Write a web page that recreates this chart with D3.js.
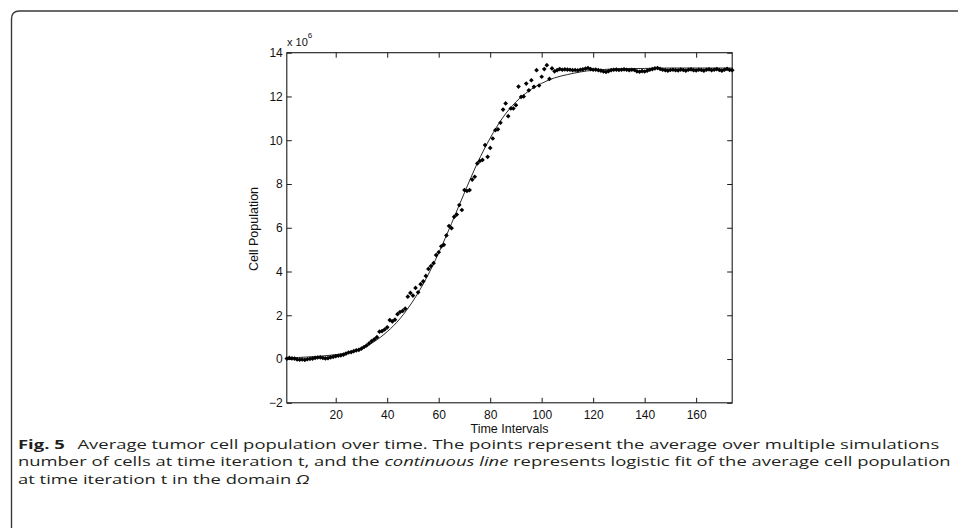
<!DOCTYPE html>
<html><head><meta charset="utf-8">
<script src="https://cdn.jsdelivr.net/npm/d3@7/dist/d3.min.js"></script>
<style>body{margin:0;background:#fff}svg{display:block}</style>
</head><body><svg id="c" width="958" height="528"></svg>
<script>
// ---- data (cell population in millions, x 10^6) ----
const xDomain = [1, 174];
const yDomain = [-2, 14];
const xTicks = [20, 40, 60, 80, 100, 120, 140, 160];
const yTicks = [-2, 0, 2, 4, 6, 8, 10, 12, 14];
// average cell population at time iteration t = 1..174
const pointValues = [
  0.02, 0.05, 0.03, 0.02, -0.02, -0.03, -0.02, -0.04, -0.01, 0.01,
  0.02, 0.05, 0.07, 0.08, 0.05, 0.03, 0.04, 0.08, 0.10, 0.13,
  0.15, 0.17, 0.20, 0.25, 0.30, 0.32, 0.36, 0.40, 0.42, 0.48,
  0.55, 0.62, 0.72, 0.82, 0.90, 1.00, 1.25, 1.28, 1.35, 1.45,
  1.78, 1.72, 1.80, 2.05, 2.15, 2.20, 2.30, 2.85, 3.02, 2.90,
  3.25, 3.05, 3.42, 3.55, 3.80, 4.12, 4.25, 4.38, 4.75, 4.88,
  5.15, 5.22, 5.65, 6.08, 5.98, 6.50, 6.60, 7.04, 6.81, 7.72,
  7.68, 7.72, 8.20, 8.33, 8.94, 9.05, 9.10, 9.78, 9.24, 9.65,
  10.08, 10.46, 10.50, 10.80, 11.40, 11.68, 11.10, 11.45, 11.45, 11.60,
  12.45, 11.98, 12.00, 12.59, 12.28, 12.74, 12.44, 13.20, 12.50, 12.90,
  13.25, 13.43, 12.80, 13.28, 13.15, 13.20, 13.25, 13.22, 13.24, 13.23,
  13.22, 13.20, 13.21, 13.19, 13.22, 13.24, 13.27, 13.30, 13.25, 13.22,
  13.23, 13.20, 13.18, 13.14, 13.12, 13.16, 13.20, 13.22, 13.23, 13.21,
  13.22, 13.24, 13.22, 13.20, 13.22, 13.21, 13.15, 13.13, 13.16, 13.14,
  13.18, 13.22, 13.25, 13.28, 13.30, 13.26, 13.22, 13.20, 13.18, 13.21,
  13.22, 13.20, 13.19, 13.23, 13.21, 13.18, 13.22, 13.24, 13.20, 13.19,
  13.22, 13.21, 13.18, 13.22, 13.24, 13.20, 13.22, 13.25, 13.21, 13.18,
  13.22, 13.26, 13.21, 13.20
];
// logistic fit at these times
const fitTimes  = [1, 10, 20, 25, 30, 35, 40, 45, 50, 55, 60, 65, 70, 75, 80, 85, 90, 95, 100, 105, 110, 115, 120, 130, 140, 150, 160, 174];
const fitValues = [0.05, 0.10, 0.20, 0.30, 0.48, 0.80, 1.25, 1.85, 2.65, 3.65, 4.85, 6.20, 7.60, 8.95, 10.10, 11.05, 11.75, 12.25, 12.60, 12.85, 13.00, 13.12, 13.20, 13.26, 13.28, 13.30, 13.30, 13.30];

const xLabel = "Time Intervals";
const yLabel = "Cell Population";
const captionBold = "Fig. 5";
const captionL1 = "Average tumor cell population over time. The points represent the average over multiple simulations";
const captionL2a = "number of cells at time iteration t, and the ";
const captionL2b = "continuous line";
const captionL2c = " represents logistic fit of the average cell population";
const captionL3a = "at time iteration t in the domain ";
const captionL3b = "\u03A9";

// ---- layout ----
const svg = d3.select("#c");
svg.append("rect").attr("width", 958).attr("height", 528).attr("fill", "#fff");

// figure frame (rounded top-left corner)
svg.append("path")
  .attr("d", "M11.5,528 L11.5,19 Q11.5,11 19.5,11 L958,11")
  .attr("fill", "none").attr("stroke", "#3a3a3a").attr("stroke-width", 1.4);

const L = 286.8, R = 732.2, T = 52.7, B = 402.8;
const x = d3.scaleLinear().domain(xDomain).range([L, R]);
const y = d3.scaleLinear().domain(yDomain).range([B, T]);

const axisFont = "'Liberation Sans', Arial, sans-serif";
const axisCol = "#1a1a1a";

function styleAxis(g) {
  g.select(".domain").remove();
  g.selectAll(".tick line").attr("stroke", axisCol).attr("stroke-width", 1);
  g.selectAll("text").attr("fill", "#111").style("font-family", axisFont).style("font-size", "12px");
}

svg.append("g").attr("transform", `translate(0,${B})`)
  .call(d3.axisBottom(x).tickValues(xTicks).tickSizeInner(-5).tickSizeOuter(0).tickPadding(8).tickFormat(d3.format("d")))
  .call(styleAxis);
svg.append("g").attr("transform", `translate(0,${T})`)
  .call(d3.axisTop(x).tickValues(xTicks).tickSizeInner(-5).tickSizeOuter(0).tickFormat(""))
  .call(styleAxis);
svg.append("g").attr("transform", `translate(${L},0)`)
  .call(d3.axisLeft(y).tickValues(yTicks).tickSizeInner(-5).tickSizeOuter(0).tickPadding(4).tickFormat(d3.format("d")))
  .call(styleAxis);
svg.append("g").attr("transform", `translate(${R},0)`)
  .call(d3.axisRight(y).tickValues(yTicks).tickSizeInner(-5).tickSizeOuter(0).tickFormat(""))
  .call(styleAxis);

// plot box
svg.append("rect").attr("x", L).attr("y", T).attr("width", R - L).attr("height", B - T)
  .attr("fill", "none").attr("stroke", axisCol).attr("stroke-width", 1.1);

// fit line
const line = d3.line().x(d => x(d[0])).y(d => y(d[1])).curve(d3.curveMonotoneX);
svg.append("path").datum(fitTimes.map((t, i) => [t, fitValues[i]]))
  .attr("d", line).attr("fill", "none").attr("stroke", "#111").attr("stroke-width", 0.9);

// points
const sym = d3.symbol().type(d3.symbolSquare).size(11);
svg.append("g").selectAll("path").data(pointValues).join("path")
  .attr("d", sym)
  .attr("transform", (v, i) => `translate(${x(i + 1)},${y(v)}) rotate(45)`)
  .attr("fill", "#000");

// axis labels
svg.append("text").attr("x", (L + R) / 2).attr("y", 433).attr("text-anchor", "middle")
  .style("font-family", axisFont).style("font-size", "12.5px").attr("fill", "#111").text(xLabel);
svg.append("text").attr("transform", "translate(258,229) rotate(-90)").attr("text-anchor", "middle")
  .style("font-family", axisFont).style("font-size", "12.5px").attr("fill", "#111").text(yLabel);

// exponent
const ex = svg.append("text").attr("x", 287).attr("y", 46).style("font-family", axisFont).attr("fill", "#111");
ex.append("tspan").style("font-size", "11px").text("x 10");
ex.append("tspan").style("font-size", "8px").attr("dy", -8).text("6");

// caption
const capFont = "'Open Sans', 'Noto Sans', sans-serif";
const capCol = "#231f20";
const capY = [449, 466.3, 483.6];
function capLine(yb) {
  return svg.append("text").attr("x", 0).attr("y", 0)
    .attr("transform", `translate(18,${yb})`)
    .style("font-family", capFont).style("font-size", "13px").attr("fill", capCol);
}
const c1 = capLine(capY[0]);
c1.append("tspan").style("font-weight", "bold").text(captionBold);
c1.append("tspan").attr("dx", 9).text(captionL1);
const c2 = capLine(capY[1]);
c2.append("tspan").text(captionL2a);
c2.append("tspan").style("font-style", "italic").text(captionL2b);
c2.append("tspan").text(captionL2c);
const c3 = capLine(capY[2]);
c3.append("tspan").text(captionL3a);
c3.append("tspan").style("font-style", "italic").text(captionL3b);

const w1 = c1.node().getBBox().width, w2 = c2.node().getBBox().width;
const f1 = (940 - 18) / w1, f2 = (951 - 18) / w2;
c1.attr("transform", `translate(18,${capY[0]}) scale(${f1},1)`);
c2.attr("transform", `translate(18,${capY[1]}) scale(${f2},1)`);
c3.attr("transform", `translate(18,${capY[2]}) scale(${(f1 + f2) / 2},1)`);
</script>
</body></html>
